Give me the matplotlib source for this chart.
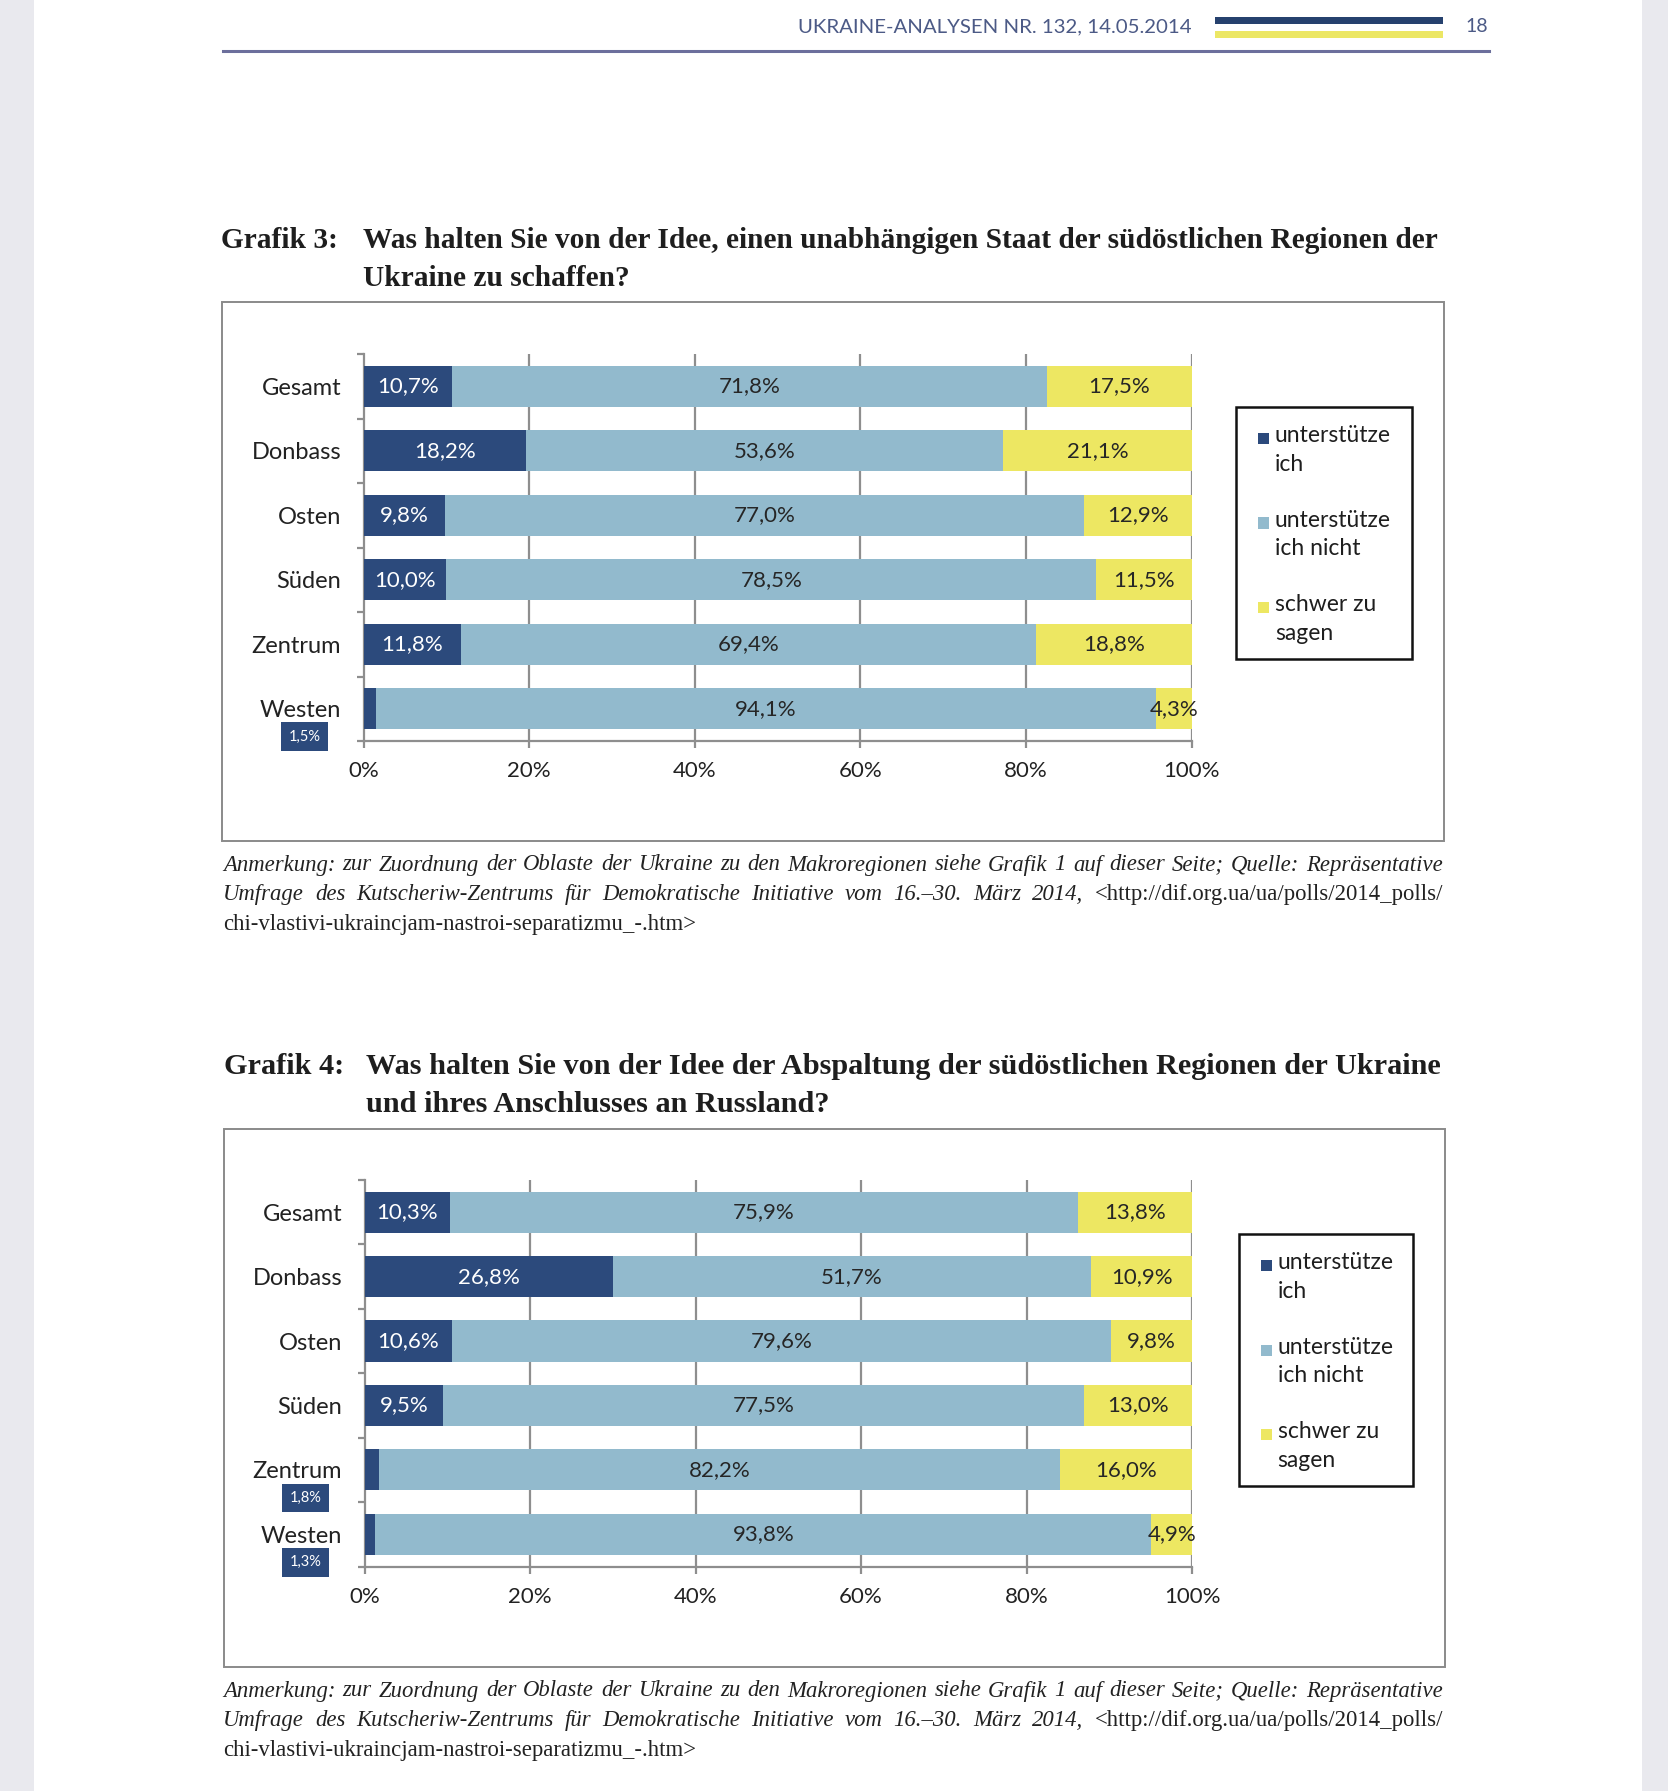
import matplotlib
matplotlib.use("Agg")
import matplotlib.pyplot as plt
from matplotlib.patches import Rectangle
import numpy as np

W, H = 1668, 1791
DPI = 100

# ---------------- data ----------------
categories = ["Gesamt", "Donbass", "Osten", "Süden", "Zentrum", "Westen"]
series_names = ["unterstütze\nich", "unterstütze\nich nicht", "schwer zu\nsagen"]

g3_support = [10.7, 18.2, 9.8, 10.0, 11.8, 1.5]
g3_not = [71.8, 53.6, 77.0, 78.5, 69.4, 94.1]
g3_hard = [17.5, 21.1, 12.9, 11.5, 18.8, 4.3]

g4_support = [10.3, 26.8, 10.6, 9.5, 1.8, 1.3]
g4_not = [75.9, 51.7, 79.6, 77.5, 82.2, 93.8]
g4_hard = [13.8, 10.9, 9.8, 13.0, 16.0, 4.9]

xticks = [0, 20, 40, 60, 80, 100]
xticklabels = ["0%", "20%", "40%", "60%", "80%", "100%"]

title3_label = "Grafik 3:"
title3_lines = ["Was halten Sie von der Idee, einen unabhängigen Staat der südöstlichen Regionen der",
                "Ukraine zu schaffen?"]
title4_label = "Grafik 4:"
title4_lines = ["Was halten Sie von der Idee der Abspaltung der südöstlichen Regionen der Ukraine",
                "und ihres Anschlusses an Russland?"]

note_line1 = "Anmerkung: zur Zuordnung der Oblaste der Ukraine zu den Makroregionen siehe Grafik 1 auf dieser Seite; Quelle: Repräsentative"
note_line2_it = "Umfrage des Kutscheriw-Zentrums für Demokratische Initiative vom 16.–30. März 2014,"
note_line2_up = "<http://dif.org.ua/ua/polls/2014_polls/"
note_line3 = "chi-vlastivi-ukraincjam-nastroi-separatizmu_-.htm>"

header_text = "UKRAINE-ANALYSEN NR. 132, 14.05.2014"
page_no = "18"

# ---------------- style ----------------
C_DARK = "#2c4a7c"
C_LIGHT = "#92bacd"
C_YEL = "#ede762"
colors = [C_DARK, C_LIGHT, C_YEL]
GRID = "#8e8e8e"
SANS = ["Lato", "DejaVu Sans"]
SERIF = ["Liberation Serif", "DejaVu Serif"]

fig = plt.figure(figsize=(W / DPI, H / DPI), dpi=DPI)
fig.patch.set_facecolor("#e9e9ee")
renderer = fig.canvas.get_renderer()


def FX(x):
    return x / W


def FY(y):
    return 1 - y / H


# page
fig.patches.append(Rectangle((FX(34), 0), FX(1642 - 34), 1, transform=fig.transFigure,
                             facecolor="white", edgecolor="none", zorder=-10))


def text_width(t):
    return t.get_window_extent(renderer).width


def fit_text(x, y, s, target_w, **kw):
    t = fig.text(FX(x), FY(y), s, **kw)
    fs = t.get_fontsize()
    w = text_width(t)
    t.set_fontsize(fs * target_w / w)
    return t


def natural_fontsize(s, target_w, **kw):
    t = fig.text(0, 0, s, fontsize=10, **kw)
    w = text_width(t)
    t.remove()
    return 10 * target_w / w


def justify(x0, x1, y, segments, fontsize, family, color="#222222"):
    """segments: list of (text, style)"""
    words = []
    for s, style in segments:
        for wd in s.split(" "):
            if wd:
                words.append((wd, style))
    items = []
    total = 0
    for wd, style in words:
        t = fig.text(0, FY(y), wd, fontsize=fontsize, family=family, style=style,
                     color=color, va="center", ha="left")
        w = text_width(t)
        items.append((t, w))
        total += w
    gap = (x1 - x0 - total) / (len(items) - 1)
    x = x0
    for t, w in items:
        t.set_x(FX(x))
        x += w + gap


# header
fit_text(1191.5, 27, header_text, 395, ha="right", va="center", family=SANS,
         fontsize=14, color="#4c5a86")
fig.patches.append(Rectangle((FX(1214.5), FY(23.5)), FX(228.5), 7 / H, transform=fig.transFigure,
                             facecolor="#26416e", edgecolor="none"))
fig.patches.append(Rectangle((FX(1214.5), FY(37.5)), FX(228.5), 7 / H, transform=fig.transFigure,
                             facecolor="#ece765", edgecolor="none"))
fig.text(FX(1477), FY(27), page_no, ha="center", va="center", family=SANS, fontsize=14,
         color="#4c5a86")
fig.lines.append(plt.Line2D([FX(223), FX(1489)], [FY(50.5), FY(50.5)], transform=fig.transFigure,
                            color="#6c6f9c", lw=2.2))

NOTE_FS = natural_fontsize(note_line1, 1200, family=SERIF, style="italic")


def draw_chart(cfg):
    sup, nott, hard = cfg["data"]
    vals = np.array([sup, nott, hard], dtype=float)
    shares = vals / vals.sum(axis=0) * 100

    # title
    t1 = fit_text(cfg["tx2"], cfg["ty1"], cfg["title_lines"][0], cfg["tw"], family=SERIF,
                  weight="bold", fontsize=20, color="#1e1e1e", va="center", ha="left")
    fs = t1.get_fontsize()
    fig.text(FX(cfg["tx2"]), FY(cfg["ty1"] + 38), cfg["title_lines"][1], family=SERIF,
             weight="bold", fontsize=fs, color="#1e1e1e", va="center", ha="left")
    fig.text(FX(cfg["tx1"]), FY(cfg["ty1"]), cfg["title_label"], family=SERIF,
             weight="bold", fontsize=fs, color="#1e1e1e", va="center", ha="left")

    # frame
    bx0, by0, bx1, by1 = cfg["box"]
    fig.patches.append(Rectangle((FX(bx0), FY(by1)), FX(bx1 - bx0), (by1 - by0) / H,
                                 transform=fig.transFigure, facecolor="none",
                                 edgecolor="#8a8a8a", lw=1.4, zorder=1))

    ax0, ay0, ax1, ay1 = cfg["axes"]
    ax = fig.add_axes([FX(ax0), FY(ay1), FX(ax1 - ax0), (ay1 - ay0) / H])
    ax.set_zorder(3)
    ax.set_facecolor("none")
    y = np.arange(len(categories))
    left = np.zeros(len(categories))
    for k in range(3):
        ax.barh(y, shares[k], left=left, height=0.64, color=colors[k], zorder=3,
                edgecolor="none")
        for i in range(len(categories)):
            cx = left[i] + shares[k][i] / 2
            lab = f"{vals[k][i]:.1f}%".replace(".", ",")
            if k == 0 and vals[k][i] < 5:
                ax.annotate(lab, xy=(0, i), xycoords="data", xytext=(-59, -28),
                            textcoords="offset pixels", ha="center", va="center",
                            fontsize=10.5, family=SANS, color="white",
                            bbox=dict(boxstyle="square,pad=0.5", fc=C_DARK, ec="none"),
                            annotation_clip=False)
                continue
            ax.text(cx, i, lab, ha="center", va="center", fontsize=16, family=SANS,
                    color="white" if k == 0 else "#262626", zorder=5)
        left += shares[k]

    ax.set_xlim(0, 100)
    ax.set_ylim(len(categories) - 0.5, -0.5)
    for xv in xticks[1:]:
        ax.axvline(xv, color=GRID, lw=1.6, zorder=1)
    for s in ["top", "right"]:
        ax.spines[s].set_visible(False)
    for s in ["left", "bottom"]:
        ax.spines[s].set_color(GRID)
        ax.spines[s].set_linewidth(1.6)
    ax.set_xticks(xticks)
    ax.set_xticklabels(xticklabels, fontsize=16, family=SANS, color="#222222")
    ax.tick_params(axis="x", length=5, width=1.6, color=GRID, pad=9.5)
    ax.set_yticks(y)
    ax.set_yticklabels(categories, fontsize=17, family=SANS, color="#222222")
    ax.tick_params(axis="y", which="major", length=0, pad=16)
    ax.set_yticks(np.arange(-0.5, len(categories)), minor=True)
    ax.tick_params(axis="y", which="minor", length=5, width=1.6, color=GRID)

    # legend
    lx0, ly0, lx1, ly1 = cfg["legend"]
    fig.patches.append(Rectangle((FX(lx0), FY(ly1)), FX(lx1 - lx0), (ly1 - ly0) / H,
                                 transform=fig.transFigure, facecolor="white",
                                 edgecolor="#111111", lw=1.8, zorder=2))
    for k, name in enumerate(series_names):
        yy = ly0 + 31 + k * 84.5
        fig.patches.append(Rectangle((FX(lx0 + 22), FY(yy + 6)), FX(11), 11 / H,
                                     transform=fig.transFigure, facecolor=colors[k],
                                     edgecolor="none", zorder=3))
        fig.text(FX(lx0 + 39), FY(yy - 13), name, family=SANS, fontsize=16.5, color="#1e1e1e",
                 va="top", ha="left", linespacing=1.45, zorder=3)

    # notes
    ny = cfg["notes_y"]
    justify(223, 1443, ny, [(note_line1, "italic")], NOTE_FS, SERIF)
    justify(223, 1443, ny + 29.6, [(note_line2_it, "italic"), (note_line2_up, "normal")], NOTE_FS,
            SERIF)
    fig.text(FX(223), FY(ny + 59.2), note_line3, family=SERIF, fontsize=NOTE_FS, color="#222222",
             va="center", ha="left")


draw_chart(dict(data=(g3_support, g3_not, g3_hard), title_label=title3_label,
                title_lines=title3_lines, tx1=220.5, tx2=363, ty1=240, tw=1076,
                box=(222, 302, 1444, 841), axes=(363.5, 354, 1191.5, 741),
                legend=(1236, 407, 1412, 659), notes_y=865))
draw_chart(dict(data=(g4_support, g4_not, g4_hard), title_label=title4_label,
                title_lines=title4_lines, tx1=224, tx2=365.6, ty1=1066, tw=1076,
                box=(224, 1129, 1445, 1667), axes=(364.5, 1180, 1192, 1566.5),
                legend=(1238.5, 1234, 1413, 1486), notes_y=1691))

fig.savefig("out.png", dpi=DPI)
